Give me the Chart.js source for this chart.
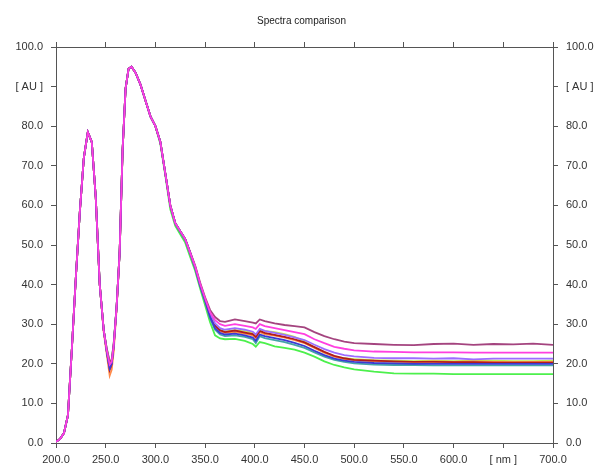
<!DOCTYPE html>
<html>
<head>
<meta charset="utf-8">
<script src="https://cdn.jsdelivr.net/npm/chart.js@4/dist/chart.umd.min.js"></script>
<style>
  html, body { margin: 0; padding: 0; background: #fff; }
  #wrap { width: 603px; height: 466px; }
</style>
</head>
<body>
<div id="wrap"><canvas id="chart" width="603" height="466"></canvas></div>
<script>
// wavelength grid, nm
const wavelengths = [200, 204, 208, 212, 216, 220, 224, 228, 232, 236,
  240, 244, 248, 251, 254, 256, 258, 261, 264, 267,
  270, 273, 276, 280, 285, 290, 295, 300, 305, 310,
  315, 320, 325, 330, 335, 340, 345, 350,
  355, 360, 365, 370, 380, 390, 398, 401, 405, 410,
  420, 430, 440, 450, 460, 470, 480, 490, 500, 520,
  540, 560, 580, 600, 620, 640, 660, 680, 700];

// absorbance per sample, AU
const mauve = [0.3, 1.0, 2.5, 7, 24, 42, 58.5, 72, 78.5, 76,
  62, 40, 28.5, 24, 20.5, 21, 25, 34.5, 48, 74,
  89.5, 94.5, 95, 93.5, 90.5, 86.5, 82.5, 80, 76, 68,
  60, 55.5, 53.5, 51.5, 48.2, 44.8, 40.5, 36.8,
  33.6, 31.8, 30.8, 30.6, 31.2, 30.8, 30.4, 30.2, 31.2, 30.8,
  30.2, 29.8, 29.5, 29.2, 28, 27, 26.2, 25.6, 25.2, 25,
  24.8, 24.7, 25, 25.1, 24.8, 25, 24.9, 25.1, 24.8];
const magenta = [0.3, 1.0, 2.5, 7, 24, 42, 58.5, 72, 78.5, 76,
  62, 40, 28.5, 23.5, 19.8, 20.5, 24.5, 34.5, 48, 74,
  89.5, 94.5, 95, 93.5, 90.5, 86.5, 82.5, 80, 76, 68,
  60, 55.5, 53.5, 51.5, 48, 44.6, 40.2, 36.5,
  33, 31, 30, 29.6, 30, 29.6, 29.2, 28.8, 30, 29.5,
  29, 28.5, 28, 27.5, 26.2, 25.2, 24.3, 23.8, 23.4, 23.1,
  23, 22.9, 22.9, 22.9, 22.8, 22.8, 22.8, 22.8, 22.8];
const violet = [0.3, 1.0, 2.5, 7, 24, 42, 58.5, 72, 78.5, 76,
  62, 40, 28.5, 23.3, 19, 20.2, 24.5, 34.5, 48, 74,
  89.5, 94.5, 95, 93.5, 90.5, 86.5, 82.5, 80, 76, 68,
  60, 55.5, 53.5, 51.5, 48, 44.5, 40, 36.3,
  32.6, 30.2, 29, 28.6, 29, 28.6, 28.1, 27.4, 28.8, 28.3,
  27.8, 27.3, 26.7, 26, 24.8, 23.7, 22.8, 22.2, 21.9, 21.5,
  21.4, 21.4, 21.3, 21.4, 21.1, 21.3, 21.3, 21.3, 21.3];
const blue = [0.3, 1.0, 2.5, 7, 24, 42, 58.5, 72, 78.5, 76,
  62, 40, 28.5, 23.2, 18.8, 20, 24.3, 34.5, 48, 74,
  89.5, 94.5, 95, 93.5, 90.5, 86.5, 82.5, 80, 76, 68,
  60, 55.5, 53.5, 51.5, 48, 44.3, 39.8, 36,
  31.8, 29, 27.8, 27.4, 27.6, 27.2, 26.6, 25.8, 27.4, 27,
  26.5, 26, 25.3, 24.5, 23.3, 22.2, 21.3, 20.8, 20.5, 20.2,
  20.1, 20, 20, 20, 20, 20, 20, 20, 20];
const darkred = [0.3, 1.0, 2.5, 7, 24, 42, 58.5, 72, 78.5, 76,
  62, 40, 28.5, 23.2, 18.5, 19.8, 24.2, 34.5, 48, 74,
  89.5, 94.5, 95, 93.5, 90.5, 86.5, 82.5, 80, 76, 68,
  60, 55.5, 53.5, 51.5, 48, 44.4, 40, 36.2,
  32.3, 29.7, 28.5, 28, 28.4, 27.9, 27.5, 26.8, 28.3, 27.8,
  27.3, 26.8, 26.2, 25.4, 24.2, 23, 22, 21.4, 21, 20.8,
  20.6, 20.5, 20.5, 20.4, 20.4, 20.3, 20.3, 20.3, 20.3];
const orange = [0.3, 1.0, 2.5, 7, 24, 42, 58.5, 72, 78.5, 76,
  62, 40, 28, 22.5, 17, 18.5, 23, 34, 48, 74,
  89.5, 94.5, 95, 93.5, 90.5, 86.5, 82.5, 80, 76, 68,
  60, 55.5, 53.5, 51.5, 48, 44.4, 40, 36.2,
  32, 29.4, 28.2, 27.8, 28, 27.6, 27.2, 26.5, 28, 27.5,
  27.1, 26.6, 26, 25.2, 24, 22.8, 21.8, 21.2, 20.9, 20.6,
  20.5, 20.5, 20.6, 20.5, 20.6, 20.5, 20.4, 20.5, 20.5];
const yellowgreen = [0.3, 1.0, 2.5, 7, 24, 42, 58.5, 72, 78.5, 76,
  62, 40, 28.5, 23.4, 19.5, 20.4, 24.5, 34.5, 48, 74,
  89.5, 94.5, 95, 93.5, 90.5, 86.5, 82.5, 80, 76, 68,
  60, 55.5, 53.5, 51.5, 48, 44.4, 40, 36.2,
  32.2, 29.6, 28.5, 28.2, 28.5, 28.2, 27.8, 27, 28.5, 28.3,
  28, 27.5, 26.8, 25.6, 24.2, 22.9, 21.9, 21.4, 21.2, 20.9,
  20.8, 20.7, 20.8, 20.7, 20.8, 20.8, 20.7, 20.7, 20.8];
const teal = [0.3, 1.0, 2.5, 7, 24, 42, 58.5, 72, 78.5, 76,
  62, 40, 28.5, 23.6, 20, 20.8, 24.7, 34.5, 48, 74,
  89.5, 94.5, 95, 93.5, 90.5, 86.5, 82.5, 80, 76, 68,
  60, 55.3, 53.2, 51.2, 47.7, 44, 39.6, 35.7,
  31.5, 28.6, 27.4, 27, 27.2, 26.8, 26.2, 25.2, 27, 26.5,
  26, 25.5, 24.8, 24, 22.9, 21.8, 21, 20.5, 20.1, 19.8,
  19.7, 19.7, 19.6, 19.6, 19.6, 19.6, 19.6, 19.6, 19.6];
const green = [0.3, 1.0, 2.5, 7, 24, 42, 58.5, 72, 78.5, 76,
  62, 40, 28.5, 23.8, 20.5, 21, 25, 34.5, 48, 74,
  89.5, 94.5, 95, 93.5, 90.5, 86.5, 82.5, 80, 75.5, 67.5,
  59, 54.8, 52.7, 50.6, 47, 43.5, 39, 34.8,
  30.5, 27.2, 26.4, 26.2, 26.3, 25.8, 25, 24.3, 25.5, 25.2,
  24.4, 24, 23.6, 22.8, 21.8, 20.6, 19.7, 19.1, 18.6, 18,
  17.6, 17.5, 17.5, 17.4, 17.4, 17.4, 17.4, 17.4, 17.4];

const seriesConfig = [
  { data: magenta, color: '#ff3fe0' },
  { data: blue, color: '#3b3bd4' },
  { data: mauve, color: '#a4447f' },
  { data: violet, color: '#9c6cff' },
  { data: darkred, color: '#b01c1c' },
  { data: orange, color: '#ff8a4a' },
  { data: yellowgreen, color: '#c6ea4e' },
  { data: teal, color: '#45a4a8' },
  { data: green, color: '#4cf04c' }
];

const xTicks = [200, 250, 300, 350, 400, 450, 500, 550, 600, 650, 700];
const yTicks = [0, 10, 20, 30, 40, 50, 60, 70, 80, 90, 100];

const axisColor = '#555';
const tickFont = { family: 'Liberation Sans, Arial, sans-serif', size: 11 };

const xLabel = v => (v === 650 ? '[ nm ]' : v.toFixed(1));
const yLabel = v => (v === 90 ? '[ AU ]' : v.toFixed(1));

function sideGrid() {
  return { drawOnChartArea: false, drawTicks: true, tickLength: 5, color: axisColor };
}

new Chart(document.getElementById('chart'), {
  type: 'line',
  data: {
    datasets: seriesConfig.map(s => ({
      data: wavelengths.map((x, i) => ({ x, y: s.data[i] })),
      borderColor: s.color,
      borderWidth: 1.8,
      pointRadius: 0,
      fill: false,
      tension: 0
    }))
  },
  options: {
    responsive: false,
    animation: false,
    layout: { padding: 0 },
    plugins: {
      legend: { display: false },
      tooltip: { enabled: false },
      title: {
        display: true,
        text: 'Spectra comparison',
        color: '#222',
        font: { family: 'Liberation Sans, Arial, sans-serif', size: 10, weight: 'normal' },
        padding: { top: 15, bottom: 7 }
      }
    },
    scales: {
      x: {
        type: 'linear', position: 'bottom', min: 200, max: 700,
        afterBuildTicks: s => { s.ticks = xTicks.map(value => ({ value })); },
        afterFit: s => { s.height = 23; },
        grid: sideGrid(),
        border: { color: axisColor, width: 1 },
        ticks: { callback: xLabel, color: '#333', font: tickFont, padding: 5, maxRotation: 0 }
      },
      x2: {
        type: 'linear', position: 'top', min: 200, max: 700,
        afterBuildTicks: s => { s.ticks = xTicks.map(value => ({ value })); },
        afterFit: s => { s.height = 13; },
        grid: sideGrid(),
        border: { color: axisColor, width: 1 },
        ticks: { callback: () => '', font: tickFont }
      },
      y: {
        type: 'linear', position: 'left', min: 0, max: 100,
        afterBuildTicks: s => { s.ticks = yTicks.map(value => ({ value })); },
        afterFit: s => { s.width = 56; },
        grid: sideGrid(),
        border: { color: axisColor, width: 1 },
        ticks: { callback: yLabel, color: '#333', font: tickFont, padding: 8 }
      },
      y2: {
        type: 'linear', position: 'right', min: 0, max: 100,
        afterBuildTicks: s => { s.ticks = yTicks.map(value => ({ value })); },
        afterFit: s => { s.width = 50; },
        grid: sideGrid(),
        border: { color: axisColor, width: 1 },
        ticks: { callback: yLabel, color: '#333', font: tickFont, padding: 8 }
      }
    }
  }
});
</script>
</body>
</html>
